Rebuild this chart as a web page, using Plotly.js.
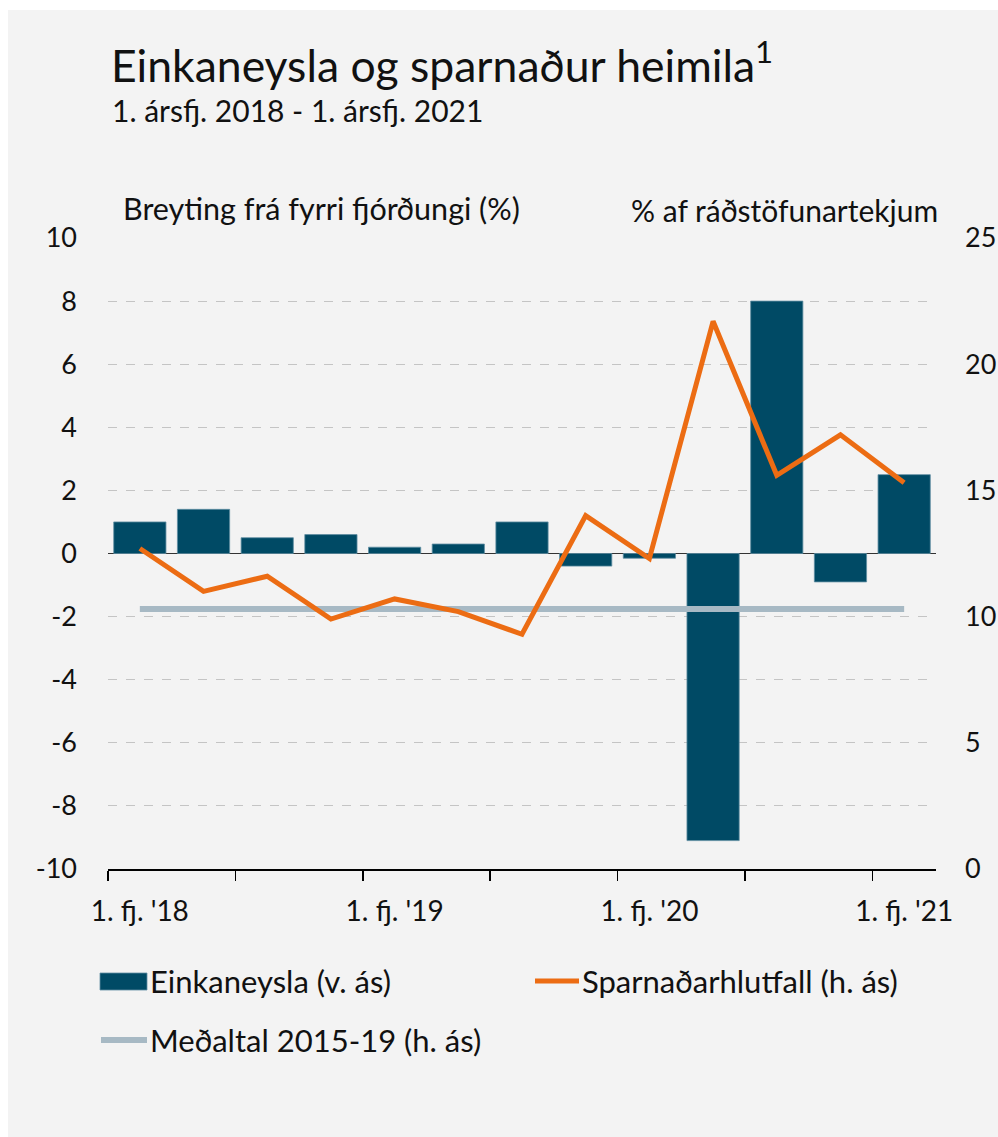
<!DOCTYPE html>
<html>
<head>
<meta charset="utf-8">
<script src="https://cdn.plot.ly/plotly-3.0.1.min.js"></script>
<style>
  html, body { margin: 0; padding: 0; background: #ffffff; }
  #chart { width: 998px; height: 1137px; }
</style>
</head>
<body>
<div id="chart"></div>
<script>
// ---- Data ----
const categories = [
  "1. fj. '18", "2. fj. '18", "3. fj. '18", "4. fj. '18",
  "1. fj. '19", "2. fj. '19", "3. fj. '19", "4. fj. '19",
  "1. fj. '20", "2. fj. '20", "3. fj. '20", "4. fj. '20",
  "1. fj. '21"
];
// Einkaneysla, breyting frá fyrri fjórðungi (%), vinstri ás
const consumption = [1.0, 1.4, 0.5, 0.6, 0.2, 0.3, 1.0, -0.4, -0.15, -9.1, 8.0, -0.9, 2.5];
// Sparnaðarhlutfall, % af ráðstöfunartekjum, hægri ás
const savingRate = [12.7, 11.0, 11.6, 9.9, 10.7, 10.2, 9.3, 14.0, 12.3, 21.7, 15.6, 17.2, 15.3];
// Meðaltal 2015-19 (h. ás)
const average = [10.3, 10.3, 10.3, 10.3, 10.3, 10.3, 10.3, 10.3, 10.3, 10.3, 10.3, 10.3, 10.3];
// Left-axis tick labels (hyphen minus as in the original)
const yTickVals = [-10, -8, -6, -4, -2, 0, 2, 4, 6, 8, 10];
const yTickText = ["-10", "-8", "-6", "-4", "-2", "0", "2", "4", "6", "8", "10"];
// Right-axis tick labels
const y2TickVals = [0, 5, 10, 15, 20, 25];
const y2TickText = ["0", "5", "10", "15", "20", "25"];

const title = "Einkaneysla og sparnaður heimila<sup>1</sup>";
const subtitle = "1. ársfj. 2018 - 1. ársfj. 2021";
const leftAxisTitle = "Breyting frá fyrri fjórðungi (%)";
const rightAxisTitle = "% af ráðstöfunartekjum";
const legendLabels = ["Einkaneysla (v. ás)", "Sparnaðarhlutfall (h. ás)", "Meðaltal 2015-19 (h. ás)"];

// ---- Styles ----
const FONT = "Lato, 'Open Sans', sans-serif";
const TXT = "#111111";
const BAR = "#004a65";
const ORANGE = "#ec6c13";
const GREY = "#a7b9c4";

const traces = [
  {
    type: "bar", x: categories, y: consumption, name: legendLabels[0],
    marker: { color: BAR, line: { color: "#5f8ea2", width: 0.8 } },
    width: 0.82, xaxis: "x", yaxis: "y", hoverinfo: "skip"
  },
  {
    type: "scatter", mode: "lines", x: categories, y: average, name: legendLabels[2],
    line: { color: GREY, width: 6 }, xaxis: "x", yaxis: "y2", hoverinfo: "skip"
  },
  {
    type: "scatter", mode: "lines", x: categories, y: savingRate, name: legendLabels[1],
    line: { color: ORANGE, width: 5 }, xaxis: "x", yaxis: "y2", hoverinfo: "skip"
  }
];

// helper: pixel -> paper coords (plot area x 108..936, y 238..869)
const L = 108, R = 936, T = 238, B = 869;
const px = v => (v - L) / (R - L);
const py = v => (B - v) / (B - T);

const annText = (text, x, y, size, xanchor) => ({
  text: text, xref: "paper", yref: "paper", x: px(x), y: py(y),
  xanchor: xanchor || "left", yanchor: "middle", showarrow: false,
  font: { family: FONT, size: size, color: TXT }
});

const layout = {
  width: 998, height: 1137,
  margin: { l: L, r: 998 - R, t: T, b: 1137 - B, pad: 0 },
  paper_bgcolor: "#f3f3f3",
  plot_bgcolor: "rgba(0,0,0,0)",
  showlegend: false,
  font: { family: FONT, color: TXT },
  xaxis: {
    type: "category",
    range: [-0.5, 12.5],
    tickmode: "linear", tick0: 0, dtick: 2, ticklabelstep: 2,
    tickson: "boundaries", tickangle: 0,
    ticks: "outside", ticklen: 10, tickwidth: 1.5, tickcolor: "#000",
    ticklabelstandoff: 16,
    showline: true, linecolor: "#000", linewidth: 2,
    showgrid: false, zeroline: false,
    tickfont: { family: FONT, size: 28, color: TXT },
    fixedrange: true
  },
  yaxis: {
    range: [-10, 10],
    tickmode: "array", tickvals: yTickVals, ticktext: yTickText,
    showgrid: true, gridcolor: "#c4c4c4", gridwidth: 1, griddash: "dash",
    zeroline: true, zerolinecolor: "#333333", zerolinewidth: 1.5,
    showline: false, ticks: "", ticklabelstandoff: 30,
    tickfont: { family: FONT, size: 27, color: TXT },
    fixedrange: true
  },
  yaxis2: {
    range: [0, 25],
    tickmode: "array", tickvals: y2TickVals, ticktext: y2TickText,
    overlaying: "y", side: "right",
    showgrid: false, zeroline: false, showline: false, ticks: "",
    ticklabelstandoff: 28,
    tickfont: { family: FONT, size: 27, color: TXT },
    fixedrange: true
  },
  shapes: [
    // white strips at top and left of the picture
    { type: "rect", xref: "paper", yref: "paper", x0: -0.3, x1: 1.3, y0: py(10), y1: py(-20),
      fillcolor: "#ffffff", line: { width: 0 }, layer: "above" },
    { type: "rect", xref: "paper", yref: "paper", x0: px(-20), x1: px(8), y0: py(1200), y1: py(-20),
      fillcolor: "#ffffff", line: { width: 0 }, layer: "above" },
    // legend symbols
    { type: "rect", xref: "paper", yref: "paper", x0: px(100), x1: px(147), y0: py(990), y1: py(973),
      fillcolor: BAR, line: { color: "#5f8ea2", width: 0.8 } },
    { type: "line", xref: "paper", yref: "paper", x0: px(535), x1: px(579), y0: py(981), y1: py(981),
      line: { color: ORANGE, width: 5 } },
    { type: "line", xref: "paper", yref: "paper", x0: px(101), x1: px(147), y0: py(1040), y1: py(1040),
      line: { color: GREY, width: 6 } }
  ],
  annotations: [
    annText(title, 109, 62, 44.5),
    annText(subtitle, 110, 110, 30),
    annText(leftAxisTitle, 121, 208, 30.5),
    annText(rightAxisTitle, 940, 210, 30, "right"),
    annText(legendLabels[0], 148, 981, 31),
    annText(legendLabels[1], 580, 981, 31),
    annText(legendLabels[2], 148, 1040, 31)
  ]
};

Plotly.newPlot("chart", traces, layout, { displayModeBar: false, staticPlot: true });
</script>
</body>
</html>
